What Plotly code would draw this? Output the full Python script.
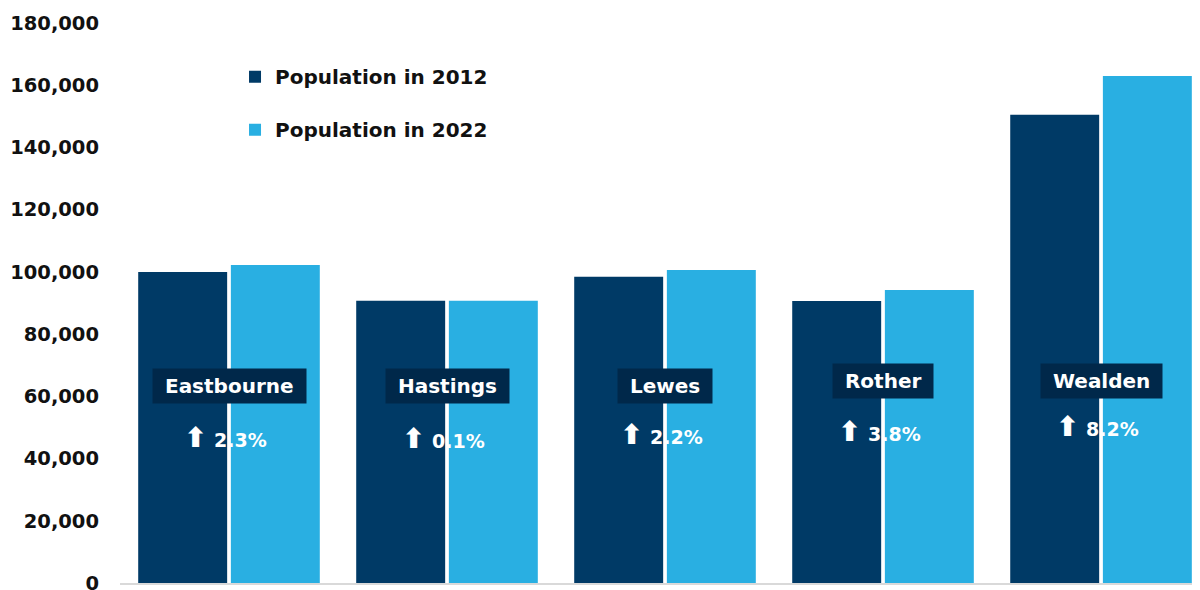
import plotly.graph_objects as go

districts = ["Eastbourne", "Hastings", "Lewes", "Rother", "Wealden"]
pop_2012 = [100000, 90700, 98400, 90650, 150500]
pop_2022 = [102250, 90750, 100600, 94150, 163000]
pct_change = [2.3, 0.1, 2.2, 3.8, 8.2]
y_ticks = [0, 20000, 40000, 60000, 80000, 100000, 120000, 140000, 160000, 180000]

DARK = "#003A66"
LIGHT = "#29AFE2"
BOX = "#00284A"
FONT = "DejaVu Sans"

fig = go.Figure()
fig.add_trace(go.Bar(x=districts, y=pop_2012, name="<b>Population in 2012</b>",
                     marker=dict(color=DARK, line=dict(width=0)), legendgroup="a"))
fig.add_trace(go.Bar(x=districts, y=pop_2022, name="<b>Population in 2022</b>",
                     marker=dict(color=LIGHT, line=dict(width=0)), legendgroup="b"))

label_y = [63300, 63300, 63300, 64900, 64900]
pct_y = [46800, 46500, 47600, 48600, 50200]
for i, d in enumerate(districts):
    fig.add_annotation(x=d, y=label_y[i], xref="x", yref="y",
                       text=f"<b>&nbsp;{d}&nbsp;</b>",
                       showarrow=False, font=dict(family=FONT, size=20, color="white"),
                       bgcolor=BOX, borderpad=5)
    fig.add_annotation(x=d, y=pct_y[i], xref="x", yref="y", xshift=-4,
                       text=f"<span style='font-size:28px'><b>⬆</b></span><b> {pct_change[i]:.1f}%</b>",
                       showarrow=False, font=dict(family=FONT, size=19, color="white"))

# page body has an 8px margin: figure is sized so the plot area lands at x 120-1200, y 23-583
fig.update_layout(
    width=1192, height=582,
    margin=dict(l=112, r=0, t=15, b=7, autoexpand=False),
    paper_bgcolor="white", plot_bgcolor="white",
    barmode="group", bargap=0.15, bargroupgap=0.04,
    showlegend=True,
    legend=dict(x=0.1065, y=0.939, xanchor="left", yanchor="top",
                traceorder="grouped", tracegroupgap=24,
                font=dict(family=FONT, size=20, color="#111111"),
                bgcolor="rgba(0,0,0,0)"),
    font=dict(family=FONT),
)
fig.update_xaxes(range=[-0.5, 4.454], showticklabels=False, showgrid=False, automargin=False,
                 showline=True, linecolor="#D9D9D9", linewidth=2, ticks="", zeroline=False)
fig.update_yaxes(range=[0, 180000], tickvals=y_ticks, tickformat=",", showgrid=False,
                 zeroline=False, showline=False, ticks="", ticklabelstandoff=20,
                 ticklabeloverflow="allow", automargin=False,
                 tickfont=dict(family=FONT, size=19.5, color="#111111", weight="bold"))

fig.write_html("out.html")
